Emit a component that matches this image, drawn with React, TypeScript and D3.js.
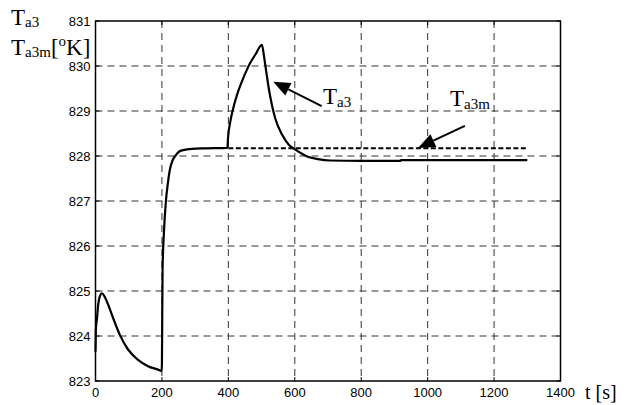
import React from "react";
import * as d3 from "d3";

const tTime = [0, 1, 2.5, 4, 7.5, 12.5, 19.6, 27, 38, 53, 73, 98, 128, 158, 193, 199, 200, 201, 202, 206, 212, 218, 224, 232, 242, 252, 264, 290, 330, 397, 399, 406, 413, 426, 441, 456, 466, 481, 501, 508, 514, 521.5, 531, 541, 562, 582, 602, 637, 670, 706, 800, 917, 920, 1000, 1100, 1200, 1300];
const ta3 = [823.65, 824.1, 824.28, 824.35, 824.65, 824.87, 824.95, 824.88, 824.7, 824.4, 824.03, 823.7, 823.47, 823.33, 823.24, 823.22, 823.4, 824.5, 825.5, 826.3, 827.0, 827.4, 827.7, 827.9, 828.02, 828.1, 828.13, 828.16, 828.17, 828.18, 828.4, 828.77, 829.01, 829.36, 829.66, 829.92, 830.07, 830.25, 830.47, 830.18, 829.88, 829.51, 829.14, 828.84, 828.47, 828.25, 828.14, 827.99, 827.93, 827.9, 827.89, 827.89, 827.91, 827.91, 827.91, 827.91, 827.91];
const ta3mTime = [400, 1300];
const ta3m = [828.17, 828.17];

const xTicks = [0, 200, 400, 600, 800, 1000, 1200, 1400];
const yTicks = [823, 824, 825, 826, 827, 828, 829, 830, 831];

// annotation arrows in data coordinates: [tailT, tailV, tipT, tipV]
const arrowA3 = [681, 829.11, 535, 829.65];
const arrowA3m = [1112, 828.67, 971, 828.18];

const W = 627, H = 405;
const left = 95.5, right = 560.5, top = 21, bottom = 381;

export default function App() {
  const x = d3.scaleLinear().domain([0, 1400]).range([left, right]);
  const y = d3.scaleLinear().domain([823, 831]).range([bottom, top]);
  const line = d3.line<[number, number]>().x(d => x(d[0])).y(d => y(d[1])).curve(d3.curveMonotoneX);
  const lineLin = d3.line<[number, number]>().x(d => x(d[0])).y(d => y(d[1]));
  const mainPts: [number, number][] = tTime.map((t, i) => [t, ta3[i]]);
  const mPts: [number, number][] = ta3mTime.map((t, i) => [t, ta3m[i]]);

  const arrow = (a: number[], key: string) => {
    const x1 = x(a[0]), y1 = y(a[1]), x2 = x(a[2]), y2 = y(a[3]);
    const dx = x2 - x1, dy = y2 - y1;
    const len = Math.hypot(dx, dy);
    const ux = dx / len, uy = dy / len;
    const hl = 17, hw = 7;
    const bx = x2 - ux * hl, by = y2 - uy * hl;
    const px = -uy, py = ux;
    const pts = `${x2},${y2} ${bx + px * hw},${by + py * hw} ${bx - px * hw},${by - py * hw}`;
    return (
      <g key={key}>
        <line x1={x1} y1={y1} x2={bx} y2={by} stroke="#000" strokeWidth={2} />
        <polygon points={pts} fill="#000" />
      </g>
    );
  };

  const serif = "'Liberation Serif', 'Times New Roman', serif";
  const sans = "'Liberation Sans', Arial, sans-serif";

  return (
    <svg width={W} height={H} style={{ position: "absolute", left: 0, top: 0, background: "#fff" }}>
      <rect x={0} y={0} width={W} height={H} fill="#fff" />
      {/* grid */}
      {xTicks.slice(1, -1).map(t => (
        <line key={"gx" + t} x1={x(t)} x2={x(t)} y1={top} y2={bottom} stroke="#333" strokeWidth={1} strokeDasharray="7,5" />
      ))}
      {yTicks.slice(1, -1).map(v => (
        <line key={"gy" + v} x1={left} x2={right} y1={y(v)} y2={y(v)} stroke="#333" strokeWidth={1} strokeDasharray="7,5" />
      ))}
      {/* ticks */}
      {xTicks.map(t => (
        <g key={"tx" + t}>
          <line x1={x(t)} x2={x(t)} y1={bottom} y2={bottom - 4} stroke="#000" />
          <line x1={x(t)} x2={x(t)} y1={top} y2={top + 4} stroke="#000" />
          <text x={x(t)} y={397} textAnchor="middle" fontFamily={sans} fontSize={13}>{t}</text>
        </g>
      ))}
      {yTicks.map(v => (
        <g key={"ty" + v}>
          <line x1={left} x2={left + 4} y1={y(v)} y2={y(v)} stroke="#000" />
          <line x1={right} x2={right - 4} y1={y(v)} y2={y(v)} stroke="#000" />
          <text x={90.5} y={y(v) + 4.5} textAnchor="end" fontFamily={sans} fontSize={13}>{v}</text>
        </g>
      ))}
      {/* frame */}
      <rect x={left} y={top} width={right - left} height={bottom - top} fill="none" stroke="#000" strokeWidth={1.5} />
      {/* series */}
      <path d={lineLin(mPts) || ""} fill="none" stroke="#000" strokeWidth={2} strokeDasharray="5,2.5" />
      <path d={line(mainPts) || ""} fill="none" stroke="#000" strokeWidth={2.2} strokeLinejoin="round" />
      {/* annotations */}
      {arrow(arrowA3, "a1")}
      {arrow(arrowA3m, "a2")}
      <text x={323} y={104} fontFamily={serif} fontSize={23}>T<tspan fontSize={15} dy={3}>a3</tspan></text>
      <text x={450} y={106} fontFamily={serif} fontSize={23}>T<tspan fontSize={15} dy={3}>a3m</tspan></text>
      {/* axis labels */}
      <text x={11} y={25} fontFamily={serif} fontSize={23}>T<tspan fontSize={15} dy={2}>a3</tspan></text>
      <text x={11} y={55} fontFamily={serif} fontSize={23}>T<tspan fontSize={15} dy={2}>a3m</tspan><tspan dy={-2}>[</tspan><tspan fontSize={15} dy={-9}>o</tspan><tspan dy={9}>K]</tspan></text>
      <text x={585} y={399} fontFamily={serif} fontSize={20}>t [s]</text>
    </svg>
  );
}
